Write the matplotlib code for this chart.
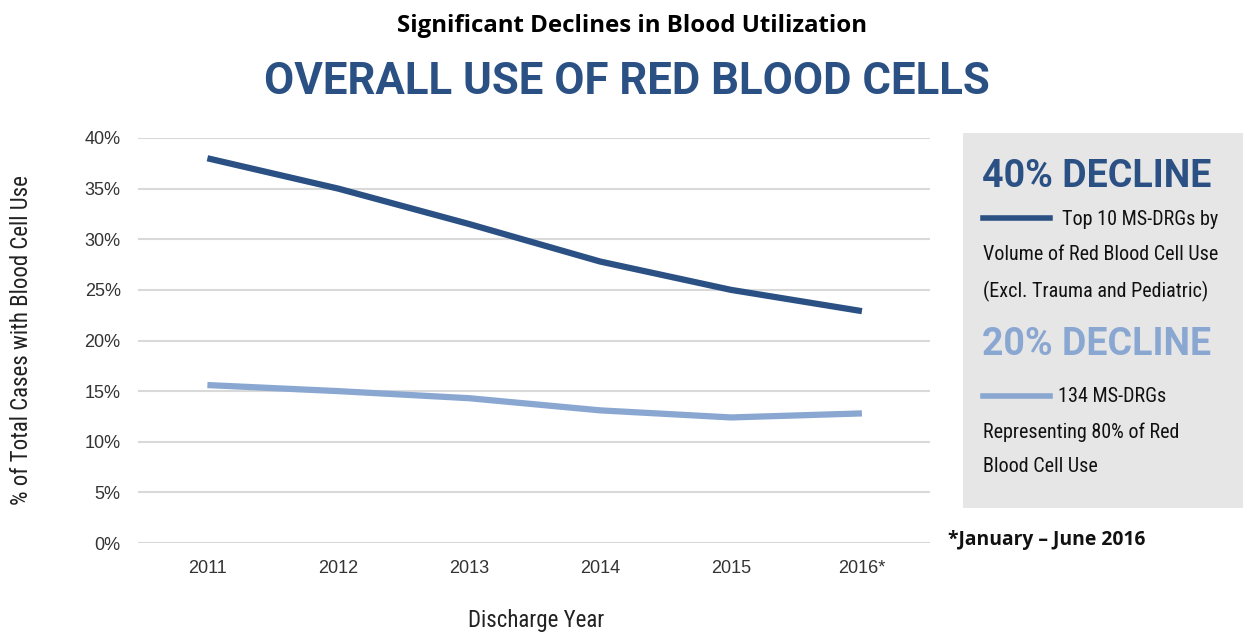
import matplotlib
matplotlib.use("Agg")
import matplotlib.pyplot as plt
from matplotlib import font_manager
from matplotlib.patches import Rectangle
from matplotlib.lines import Line2D

years = ["2011", "2012", "2013", "2014", "2015", "2016*"]
top10 = [38.0, 35.0, 31.5, 27.8, 25.0, 22.9]
ms134 = [15.6, 15.0, 14.3, 13.1, 12.4, 12.8]
yticks = [0, 5, 10, 15, 20, 25, 30, 35, 40]

names = {f.name for f in font_manager.fontManager.ttflist}
cond = "Roboto Condensed" if "Roboto Condensed" in names else "DejaVu Sans"
COND = [cond, "DejaVu Sans"]
WIDE = ["Roboto", "DejaVu Sans"]
HELV = ["Liberation Sans", "DejaVu Sans"]

DARK = "#2b5184"
LIGHT = "#8aa7d2"

W, H = 1248, 634
fig = plt.figure(figsize=(W / 100, H / 100), dpi=100)

def fx(px):
    return px / W

def fy(py):
    return 1 - py / H

ax = fig.add_axes([fx(138), fy(543), fx(930 - 138), (543 - 138) / H])
x = list(range(len(years)))
ax.plot(x, top10, color=DARK, lw=4.5, solid_capstyle="butt")
ax.plot(x, ms134, color=LIGHT, lw=4.5, solid_capstyle="butt")
ax.set_xlim(-0.53, 5.52)
ax.set_ylim(0, 40)
ax.set_yticks(yticks)
ax.set_yticklabels([f"{v}%" for v in yticks], fontsize=13, color="#333333")
ax.set_xticks(x)
ax.set_xticklabels(years, fontsize=13, color="#333333")
ax.tick_params(length=0, axis="y", pad=12.5)
ax.tick_params(length=0, axis="x", pad=12.5)
ax.grid(axis="y", color="#d9d9d9", lw=1.5)
ax.set_axisbelow(True)
for s in ax.spines.values():
    s.set_visible(False)
for lab in ax.get_xticklabels() + ax.get_yticklabels():
    lab.set_family(HELV)

fig.text(fx(22), fy(340), "% of Total Cases with Blood Cell Use", rotation=90,
         ha="center", va="center", fontsize=16.5, family=COND, color="#222222")
fig.text(fx(536), fy(621), "Discharge Year", ha="center", va="center",
         fontsize=16.5, family=COND, color="#222222")

fig.text(fx(632), fy(26), "Significant Declines in Blood Utilization", ha="center",
         va="center", fontsize=17.3, weight="bold", family="Open Sans", color="black")
fig.text(fx(627), fy(82), "OVERALL USE OF RED BLOOD CELLS", ha="center",
         va="center", fontsize=31.5, weight="bold", family=WIDE, color=DARK)

# side panel
fig.patches.append(Rectangle((fx(963), fy(508)), fx(1243 - 963), (508 - 133) / H,
                             transform=fig.transFigure, facecolor="#e6e6e6",
                             edgecolor="none"))
fig.text(fx(982), fy(176), "40% DECLINE", ha="left", va="center", fontsize=27,
         weight="bold", family=WIDE, color=DARK)
fig.lines.append(Line2D([fx(983), fx(1050)], [fy(218), fy(218)],
                        transform=fig.transFigure, color=DARK, lw=4))
fig.text(fx(1062), fy(219), "Top 10 MS-DRGs by", ha="left", va="center",
         fontsize=14.5, family=COND, color="#111111")
fig.text(fx(983), fy(255), "Volume of Red Blood Cell Use", ha="left", va="center",
         fontsize=14.5, family=COND, color="#111111")
fig.text(fx(983), fy(291), "(Excl. Trauma and Pediatric)", ha="left", va="center",
         fontsize=14.5, family=COND, color="#111111")

fig.text(fx(982), fy(345), "20% DECLINE", ha="left", va="center", fontsize=27,
         weight="bold", family=WIDE, color=LIGHT)
fig.lines.append(Line2D([fx(983), fx(1050)], [fy(396), fy(396)],
                        transform=fig.transFigure, color=LIGHT, lw=4))
fig.text(fx(1058), fy(397), "134 MS-DRGs", ha="left", va="center",
         fontsize=14.5, family=COND, color="#111111")
fig.text(fx(983), fy(432), "Representing 80% of Red", ha="left", va="center",
         fontsize=14.5, family=COND, color="#111111")
fig.text(fx(983), fy(466), "Blood Cell Use", ha="left", va="center",
         fontsize=14.5, family=COND, color="#111111")

fig.text(fx(948), fy(540), "*January \u2013 June 2016", ha="left", va="center",
         fontsize=13.9, weight="bold", family=["Open Sans", "DejaVu Sans"], color="#111111")

fig.savefig("out.png", dpi=100)
